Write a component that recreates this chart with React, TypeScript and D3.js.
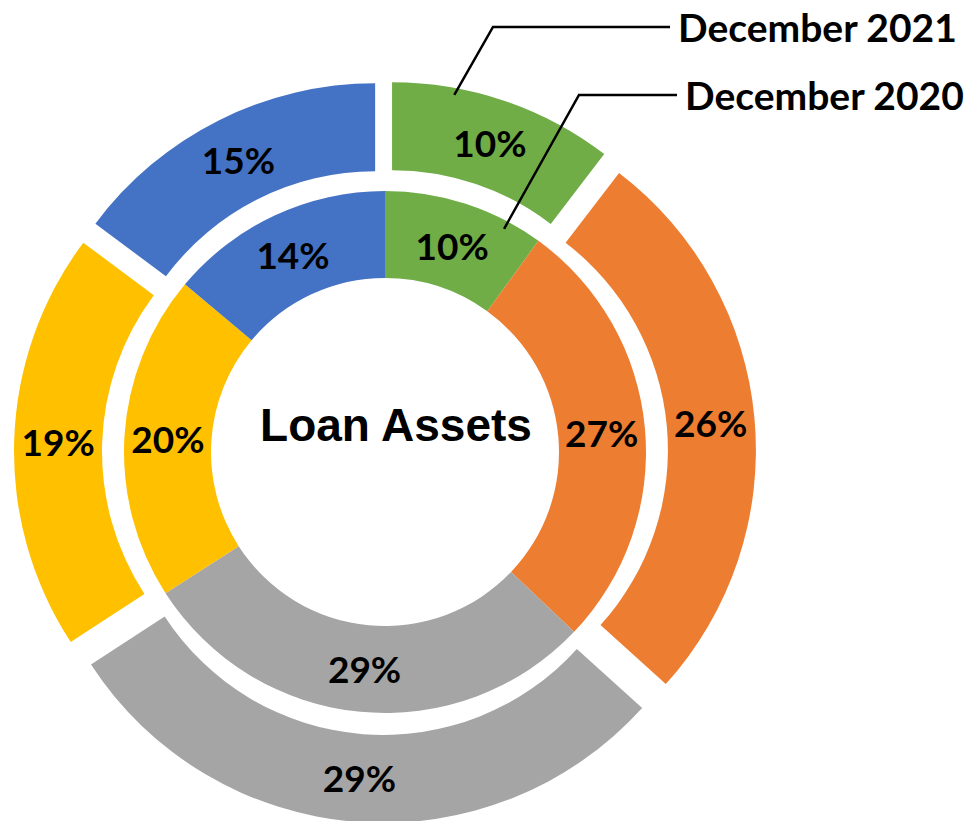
import React from 'react';
import * as d3 from 'd3';

// Two rings of the same five segments (percent of loan assets)
const segments = ['Segment A', 'Segment B', 'Segment C', 'Segment D', 'Segment E'];
const seriesNames = ['December 2021', 'December 2020'];
const dec2021 = [10.4, 26.3, 29.1, 19.4, 14.8];
const dec2020 = [10.0, 27.1, 28.8, 20.2, 13.9];
const colors = ['#70AD47', '#ED7D31', '#A5A5A5', '#FFC000', '#4472C4'];
const centerTitle = 'Loan Assets';

const W = 966;
const H = 821;
const cx = 385;
const cy = 452;
const holeR = 174;
const midR = 261;
const outerR = 349;
const explode = 22;

const pctFont = { fontFamily: 'Lato, "Open Sans", sans-serif', fontWeight: 700, fontSize: 37 };

export default function App() {
    const pie = d3
        .pie<number>()
        .sort(null)
        .value((d) => d);

    const innerArc = d3.arc<d3.PieArcDatum<number>>().innerRadius(holeR).outerRadius(midR);
    const outerArc = d3.arc<d3.PieArcDatum<number>>().innerRadius(midR).outerRadius(outerR);

    const outerSlices = pie(dec2021);
    const innerSlices = pie(dec2020);

    // outward shift of an exploded slice along its bisector
    const shift = (s: d3.PieArcDatum<number>) => {
        const a = (s.startAngle + s.endAngle) / 2;
        return [Math.sin(a) * explode, -Math.cos(a) * explode];
    };

    const polar = (a: number, r: number) => [Math.sin(a) * r, -Math.cos(a) * r];

    // leader line anchors inside the green slices
    const g21 = outerSlices[0];
    const g20 = innerSlices[0];
    const [s21x, s21y] = shift(g21);
    const p21 = polar(g21.startAngle + (g21.endAngle - g21.startAngle) * 0.28, outerR - 7);
    const p20 = polar(g20.startAngle + (g20.endAngle - g20.startAngle) * 0.78, midR - 8);

    const leaders = [
        { name: seriesNames[0], start: [cx + p21[0] + s21x, cy + p21[1] + s21y], elbow: [493, 27], end: 670, textX: 678 },
        { name: seriesNames[1], start: [cx + p20[0], cy + p20[1]], elbow: [579, 95], end: 677, textX: 685 },
    ];

    return (
        <svg
            width={W}
            height={H}
            style={{ position: 'absolute', left: 0, top: 0, background: '#fff' }}
        >
            <g transform={`translate(${cx},${cy})`}>
                {innerSlices.map((s, i) => (
                    <path key={'in' + i} d={innerArc(s) as string} fill={colors[i]} />
                ))}
                {outerSlices.map((s, i) => {
                    const [dx, dy] = shift(s);
                    return (
                        <path
                            key={'out' + i}
                            d={outerArc(s) as string}
                            fill={colors[i]}
                            transform={`translate(${dx},${dy})`}
                        />
                    );
                })}
                {innerSlices.map((s, i) => {
                    const [x, y] = innerArc.centroid(s);
                    return (
                        <text key={'lin' + i} x={x} y={y} textAnchor="middle" dominantBaseline="central" style={pctFont}>
                            {Math.round(s.data) + '%'}
                        </text>
                    );
                })}
                {outerSlices.map((s, i) => {
                    const [x, y] = outerArc.centroid(s);
                    const [dx, dy] = shift(s);
                    return (
                        <text key={'lout' + i} x={x + dx} y={y + dy} textAnchor="middle" dominantBaseline="central" style={pctFont}>
                            {Math.round(s.data) + '%'}
                        </text>
                    );
                })}
                <text
                    x={11}
                    y={-27}
                    textAnchor="middle"
                    dominantBaseline="central"
                    style={{ fontFamily: '"Liberation Sans", Arial, sans-serif', fontWeight: 700, fontSize: 46 }}
                >
                    {centerTitle}
                </text>
            </g>
            {leaders.map((l) => (
                <g key={l.name}>
                    <polyline
                        points={`${l.start[0]},${l.start[1]} ${l.elbow[0]},${l.elbow[1]} ${l.end},${l.elbow[1]}`}
                        fill="none"
                        stroke="#000"
                        strokeWidth={2.5}
                    />
                    <text x={l.textX} y={l.elbow[1]} dominantBaseline="central" style={{ ...pctFont, fontSize: 39 }}>
                        {l.name}
                    </text>
                </g>
            ))}
        </svg>
    );
}
